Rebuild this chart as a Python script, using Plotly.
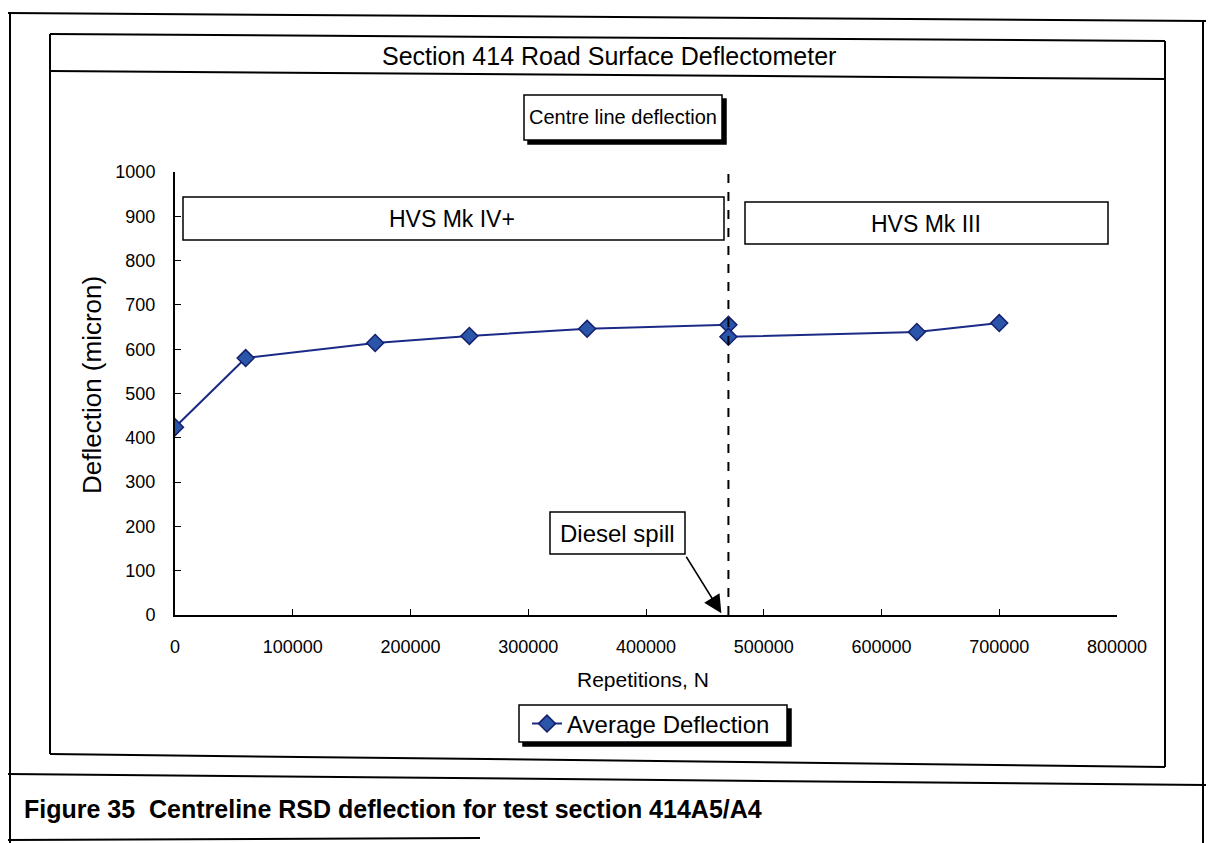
import plotly.graph_objects as go

# data
repetitions = [0, 60000, 170000, 250000, 350000, 470000, 470000, 630000, 700000]
deflection = [424, 580, 614, 630, 646, 655, 628, 639, 659]
spill_at = 470000
x_ticks = [0, 100000, 200000, 300000, 400000, 500000, 600000, 700000, 800000]
y_ticks = [0, 100, 200, 300, 400, 500, 600, 700, 800, 900, 1000]

# the page body adds an 8px margin, so the figure is made smaller
OFF = 8
W, H = 1214 - 2 * OFF, 843 - OFF
# plot area in screen pixels
X0, X1, Y0, Y1 = 175, 1117, 615, 172
L, T = X0 - OFF, Y1 - OFF
R, B = OFF + W - X1, OFF + H - Y0
PW, PH = X1 - X0, Y0 - Y1
FONT = 'Liberation Sans, Arial, sans-serif'


#screen pixel -> paper coords
def px(x):
    return (x - X0) / PW


def py(y):
    return (Y0 - y) / PH


def line(x0, y0, x1, y1, w=2):
    return dict(type='line', xref='paper', yref='paper',
                x0=px(x0), y0=py(y0), x1=px(x1), y1=py(y1),
                line=dict(color='black', width=w))


def box(x0, y0, x1, y1, fill='white', w=1.5):
    return dict(type='rect', xref='paper', yref='paper',
                x0=px(x0), y0=py(y0), x1=px(x1), y1=py(y1),
                fillcolor=fill, line=dict(color='black', width=w))


def label(text, x, y, size, xanchor='center', **kw):
    return dict(text=text, xref='paper', yref='paper', x=px(x), y=py(y),
                xanchor=xanchor, yanchor='middle', showarrow=False,
                font=dict(family=FONT, size=size, color='black'), **kw)


fig = go.Figure()
fig.add_trace(go.Scatter(
    x=repetitions, y=deflection, mode='lines+markers', name='Average Deflection',
    line=dict(color='#1b2a86', width=2),
    marker=dict(symbol='diamond', size=13, color='#2a55a8',
                line=dict(color='#14206e', width=1.5))))

shapes = [
    # page frame and caption band
    line(5, 13, 1214, 21), line(10, 13, 10, 843), line(1203, 21, 1203, 843),
    line(5, 774, 1214, 785), line(5, 840, 480, 838),
    # chart frame and title band
    line(50, 34, 1165, 41), line(50, 34, 50, 754), line(1165, 41, 1165, 767),
    line(50, 754, 1165, 767), line(50, 71, 1165, 79),
    # text boxes
    box(528, 99, 726, 144, fill='black'), box(524, 95, 722, 140),
    box(183, 197, 724, 240), box(745, 202, 1108, 244),
    box(550, 512, 685, 554),
    # legend frame with shadow
    box(523, 709, 791, 746, fill='black'), box(519, 705, 787, 742),
    # diesel spill marker line
    dict(type='line', xref='x', yref='y', x0=spill_at, x1=spill_at, y0=0, y1=1000,
         line=dict(color='black', width=2, dash='dash')),
]

annotations = [
    label('Section 414 Road Surface Deflectometer', 609, 56, 25),
    label('Centre line deflection', 623, 117, 20),
    label('HVS Mk IV+', 452, 219, 23),
    label('HVS Mk III', 926, 224, 23),
    label('Diesel spill', 617, 533, 24),
    label('Deflection (micron)', 92, 385, 26, textangle=-90),
    label('Repetitions, N', 643, 679, 21),
    label('<b>Figure 35  Centreline RSD deflection for test section 414A5/A4</b>',
          22, 809, 25, xanchor='left'),
    dict(text='', x=464000, y=4, xref='x', yref='y', showarrow=True,
         ax=-36, ay=-58, arrowhead=2, arrowsize=2.4, arrowwidth=1.5, arrowcolor='black'),
]

fig.update_layout(
    width=W, height=H,
    margin=dict(l=L, r=R, t=T, b=B),
    paper_bgcolor='white', plot_bgcolor='white',
    font=dict(family=FONT, size=18, color='black'),
    shapes=shapes, annotations=annotations,
    showlegend=True,
    legend=dict(x=px(651), y=py(724), xanchor='center', yanchor='middle',
                bgcolor='rgba(0,0,0,0)', borderwidth=0,
                font=dict(family=FONT, size=24)),
)
fig.update_xaxes(range=[0, 800000], tickvals=x_ticks, tickformat='d',
                 showline=True, linecolor='black', linewidth=2, showgrid=False,
                 zeroline=False, ticks='inside', ticklen=6, tickcolor='black',
                 ticklabelstandoff=14, tickfont=dict(size=18))
fig.update_yaxes(range=[0, 1000], tickvals=y_ticks,
                 showline=True, linecolor='black', linewidth=2, showgrid=False,
                 zeroline=False, ticks='inside', ticklen=6, tickcolor='black',
                 ticklabelstandoff=14, tickfont=dict(size=18))

fig.write_html('out.html')
